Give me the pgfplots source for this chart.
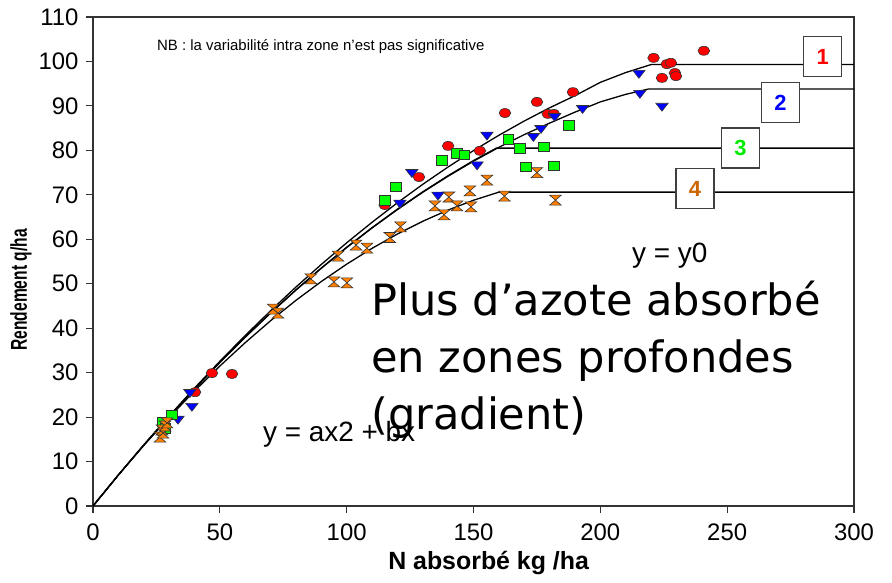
\documentclass[border=0pt]{standalone}
\usepackage{pgfplots}
\pgfplotsset{compat=1.18}
\usepackage{fontspec}
\setmainfont{Liberation Sans}
\newfontfamily\dejavu{DejaVu Sans}
\definecolor{rouge}{RGB}{255,0,0}
\definecolor{bleu}{RGB}{0,0,255}
\definecolor{vert}{RGB}{0,255,0}
\definecolor{orangem}{RGB}{255,128,0}
\definecolor{brun}{RGB}{204,102,0}
\definecolor{vertlbl}{RGB}{0,235,0}
\pgfdeclareplotmark{hourglass}{%
 \pgfpathmoveto{\pgfqpoint{-1.17\pgfplotmarksize}{\pgfplotmarksize}}%
 \pgfpathlineto{\pgfqpoint{1.17\pgfplotmarksize}{\pgfplotmarksize}}%
 \pgfpathlineto{\pgfqpoint{-1.17\pgfplotmarksize}{-\pgfplotmarksize}}%
 \pgfpathlineto{\pgfqpoint{1.17\pgfplotmarksize}{-\pgfplotmarksize}}%
 \pgfpathclose
 \pgfusepathqfillstroke}
\begin{document}
\begin{tikzpicture}
\begin{axis}[
 at={(0,0)}, anchor=south west,
 width=761bp, height=489bp, scale only axis,
 xmin=0,xmax=300,ymin=0,ymax=110,
 xtick={0,50,...,300}, ytick={0,10,...,110},
 tick pos=left, tick align=outside, major tick length=7bp,
 axis line style={line width=1.1bp, black!80},
 every tick/.style={line width=1.1bp, black!80},
 ticklabel style={font=\fontsize{24}{24}\selectfont, /pgf/number format/assume math mode=true},
 xticklabel style={yshift=-7bp},
 yticklabel style={xshift=-4bp},
 xlabel={\textbf{N absorbé kg /ha}},
 ylabel={\scalebox{0.68}[1]{\textbf{Rendement q/ha}}},
 xlabel style={font=\fontsize{25}{25}\selectfont, at={(ticklabel cs:0.52)}, yshift=-4bp},
 ylabel style={font=\fontsize{23}{23}\selectfont, at={(ticklabel cs:0.442)}},
 clip=false,
]
% fitted response curves (quadratic then plateau)
\addplot[black, line width=1.3bp] coordinates {(0,0)(10,6.98)(20,13.73)(30,20.24)(40,26.51)(50,32.55)(60,38.35)(70,43.92)(80,49.25)(90,54.34)(100,59.2)(110,63.82)(120,68.21)(130,72.36)(140,76.27)(150,79.95)(160,83.39)(170,86.6)(180,89.57)(190,92.3)(200,95.3)(210,97.5)(220,99.3)(300,99.3)};
\addplot[black, line width=1.3bp] coordinates {(0,0)(10,6.97)(20,13.69)(30,20.14)(40,26.34)(50,32.29)(60,37.97)(70,43.4)(80,48.57)(90,53.48)(100,58.14)(110,62.54)(120,66.68)(130,70.57)(140,74.19)(150,77.57)(160,80.68)(170,83.54)(180,86.13)(190,88.6)(200,90.9)(210,92.6)(219,93.8)(300,93.8)};
\addplot[black, line width=1.3bp] coordinates {(0,0)(10,6.97)(20,13.69)(30,20.15)(40,26.35)(50,32.3)(60,37.99)(70,43.43)(80,48.61)(90,53.53)(100,58.2)(110,62.61)(120,66.77)(130,70.67)(140,74.31)(150,77.7)(159,80.5)(300,80.5)};
\addplot[black, line width=1.3bp] coordinates {(0,0)(10,6.98)(20,13.62)(30,19.91)(40,25.86)(50,31.48)(60,36.74)(70,41.67)(80,46.26)(90,50.5)(100,54.4)(110,57.96)(120,61.18)(130,64.05)(140,66.58)(150,68.78)(160,70.6)(300,70.6)};
% zone 1
\addplot[only marks, mark=*, mark size=4.5bp, mark options={xscale=1.3, fill=rouge, draw=black!80, line width=0.6bp}] coordinates {(40.2,25.6)(46.9,29.9)(54.8,29.7)(115,67.7)(128.5,74.0)(140,81.0)(152.5,79.9)(162.4,88.4)(175,90.9)(179.3,88.2)(181.7,88.2)(189.2,93.1)(221,100.8)(226.2,99.4)(227.8,99.7)(224.3,96.3)(229.4,97.4)(229.8,96.7)(240.8,102.4)};
% zone 2
\addplot[only marks, mark=triangle*, mark size=5.3bp, mark options={rotate=180, xscale=1.35, fill=bleu, draw=black!80, line width=0.6bp}] coordinates {(33.5,19.6)(38.2,25.6)(39,22.5)(121,68.2)(125.7,75.1)(136,70.0)(151.4,76.8)(155.3,83.5)(173.6,83.2)(176.6,85.0)(182,87.7)(193,89.5)(215.2,97.4)(215.6,92.9)(224.3,90.0)};
% zone 3
\addplot[only marks, mark=square*, mark size=4.8bp, mark options={xscale=1.1, fill=vert, draw=black!80, line width=0.6bp}] coordinates {(27.6,18.9)(31.1,20.5)(28.5,17.5)(115.1,68.8)(119.4,71.8)(137.6,77.7)(143.5,79.4)(146.4,79.0)(163.8,82.5)(168.3,80.5)(177.8,80.8)(170.7,76.3)(181.7,76.5)(187.6,85.7)};
% zone 4
\addplot[only marks, mark=hourglass, mark size=5bp, mark options={fill=orangem, draw=black!80, line width=0.6bp}] coordinates {(26.4,15.5)(27.2,17.1)(27.6,16.4)(28.4,18.0)(29.2,18.7)(71,44.3)(72.9,43.4)(85.9,51.1)(95,50.4)(100.1,50.2)(96.6,56.2)(103.7,58.7)(108,58.0)(117,60.4)(121.2,62.8)(134.8,67.5)(138.4,65.5)(140.3,69.5)(143.5,67.5)(148.6,70.9)(149,67.3)(155.3,73.3)(162.2,69.7)(175,75)(182.3,68.8)};
% zone labels
\tikzset{zbox/.style={draw=black!75, line width=1.3bp, fill=white, minimum width=38bp, minimum height=40bp, inner sep=0pt, font=\fontsize{22}{22}\selectfont\bfseries}}
\node[zbox, text=rouge] at (axis cs:287.7,101.1) {1};
\node[zbox, text=bleu] at (axis cs:271,90.7) {2};
\node[zbox, text=vertlbl] at (axis cs:255.2,80.5) {3};
\node[zbox, text=brun] at (axis cs:237.3,71.4) {4};
% annotations
\node[anchor=base west, inner sep=0pt, font=\fontsize{15}{15}\selectfont] at (axis cs:25.2,102.4) {NB : la variabilité intra zone n\char39 est pas significative};
\node[anchor=base west, inner sep=0pt, font=\fontsize{28}{28}\selectfont] at (axis cs:212.5,54.7) {y = y0};
\node[anchor=base west, inner sep=0pt, font=\fontsize{28}{28}\selectfont] at (axis cs:67,14.5) {y = ax2 + bx};
\node[anchor=base west, inner sep=0pt, font=\dejavu\fontsize{43.3}{43.3}\selectfont] at (axis cs:109.6,42.9) {Plus d’azote absorbé};
\node[anchor=base west, inner sep=0pt, font=\dejavu\fontsize{43.3}{43.3}\selectfont] at (axis cs:109.6,30.0) {en zones profondes};
\node[anchor=base west, inner sep=0pt, font=\dejavu\fontsize{43.3}{43.3}\selectfont] at (axis cs:109.6,17.1) {(gradient)};
\end{axis}
\pgfresetboundingbox
\path (-93bp,-77bp) rectangle (799bp,506bp);
\end{tikzpicture}
\end{document}
